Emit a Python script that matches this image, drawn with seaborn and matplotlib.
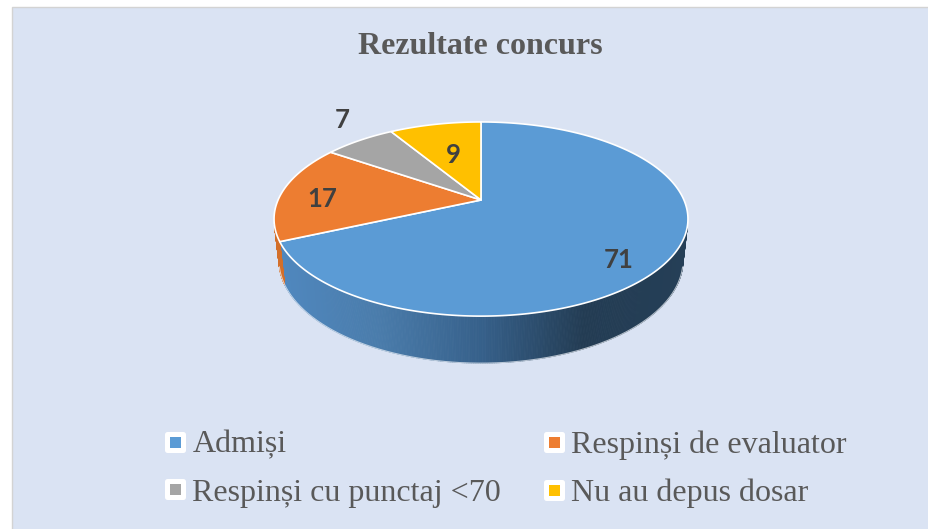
import numpy as np
import matplotlib
matplotlib.use("Agg")
import matplotlib.pyplot as plt
import seaborn as sns
from matplotlib.patches import Polygon, Rectangle
from matplotlib.collections import PolyCollection
from matplotlib.lines import Line2D
from matplotlib.markers import MarkerStyle

# ---------------- data ----------------
categories = ["Admiși", "Respinși de evaluator", "Respinși cu punctaj <70", "Nu au depus dosar"]
values = [71, 17, 7, 9]
title = "Rezultate concurs"

# ---------------- style ----------------
top_colors = ["#5B9BD5", "#ED7D31", "#A5A5A5", "#FFC000"]
side_colors = ["#3A6591", "#D36F2A", "#8A8A8A", "#D9A300"]
blue_wall_stops = ["#5088BF", "#4A7CAB", "#36608A", "#233C53", "#253F57"]

sns.set_theme(style="white")
plt.rcParams["font.family"] = ["Liberation Serif", "DejaVu Serif"]

W, H = 929, 529
fig = plt.figure(figsize=(W / 100, H / 100), dpi=100)
fig.patch.set_facecolor("white")
ax = fig.add_axes([0, 0, 1, 1])
ax.set_xlim(0, W)
ax.set_ylim(H, 0)
ax.axis("off")

ax.add_patch(Rectangle((12, 7), W - 11, H - 6, facecolor="#DAE3F3",
                       edgecolor="#D3D3D3", lw=1.0, zorder=0))

# ---------------- 3D projection ----------------
S_E = 0.46
C_E = np.sqrt(1 - S_E ** 2)
DIST = 5.1 * C_E
SCALE = 919.0
CX, CY = 481.0, 200.0
THICK = 0.231


def proj(u, v, z=0.0):
    depth = DIST + v * C_E - z * S_E
    xs = u / depth
    ys = (v * S_E + z * C_E) / depth
    return CX + SCALE * xs, CY - SCALE * ys


total = float(sum(values))
cum = np.concatenate([[0], np.cumsum(values)])
starts = 90 - cum[:-1] / total * 360
ends = 90 - cum[1:] / total * 360

vis_thr = -1.0 / (DIST * C_E)
grad = sns.blend_palette(blue_wall_stops, n_colors=256)
xl, xr = CX - 207, CX + 207

# side walls (front, visible part)
for i in range(len(values)):
    th = np.radians(np.linspace(starts[i], ends[i], 600))
    vis = np.sin(th) < vis_thr
    polys, cols = [], []
    bottom_x, bottom_y = [], []
    for j in range(len(th) - 1):
        if vis[j] and vis[j + 1]:
            a, b = th[j], th[j + 1]
            p1 = proj(np.cos(a), np.sin(a), 0)
            p2 = proj(np.cos(b), np.sin(b), 0)
            p3 = proj(np.cos(b), np.sin(b), -THICK)
            p4 = proj(np.cos(a), np.sin(a), -THICK)
            polys.append([p1, p2, p3, p4])
            if i == 0:
                t = np.clip(((p1[0] + p2[0]) / 2 - xl) / (xr - xl), 0, 1)
                cols.append(grad[int(t * 255)])
            else:
                cols.append(side_colors[i])
            bottom_x.append(p4[0]); bottom_y.append(p4[1])
    if polys:
        pc = PolyCollection(polys, facecolors=cols, edgecolors=cols, linewidths=0.6, zorder=2)
        ax.add_collection(pc)
        ax.plot(bottom_x, bottom_y, color="#EEF2F8", lw=0.8, alpha=0.7, zorder=3)

# top faces
for i in range(len(values)):
    th = np.radians(np.linspace(starts[i], ends[i], 300))
    pts = [proj(0, 0, 0)] + [proj(np.cos(a), np.sin(a), 0) for a in th]
    ax.add_patch(Polygon(pts, closed=True, facecolor=top_colors[i], edgecolor="white",
                         lw=1.2, joinstyle="round", zorder=4))

# data labels
label_r = [0.75, 0.8, 1.15, 0.55]
label_z = [-0.1, -0.03, 0.08, 0.0]
for i, val in enumerate(values):
    mid = np.radians((starts[i] + ends[i]) / 2)
    x, y = proj(label_r[i] * np.cos(mid), label_r[i] * np.sin(mid), label_z[i])
    ax.text(x, y, str(val), ha="center", va="center", fontsize=18.5, fontweight="bold",
            color="#404040", family=["Lato", "DejaVu Sans"], zorder=6)

# title
ax.text(480, 47, title, ha="center", va="center", fontsize=23, fontweight="bold",
        color="#595959", family=["Liberation Serif", "DejaVu Serif"], zorder=6)

# legend (row-wise order like reference)
order = [0, 2, 1, 3]
sq = MarkerStyle("s", joinstyle="round")
handles = [Line2D([], [], marker=sq, linestyle="none", markersize=11.5,
                  markerfacecolor=top_colors[k], markeredgecolor="white",
                  markeredgewidth=3.6) for k in order]
leg = ax.legend(handles, [categories[k] for k in order], ncol=2, loc="center",
                bbox_to_anchor=(506 / W, 1 - 469 / H), bbox_transform=fig.transFigure,
                frameon=False, fontsize=23, labelcolor="#595959",
                handlelength=0.6, handletextpad=0.25, columnspacing=1.35,
                labelspacing=0.58, borderpad=0)

fig.savefig("out.png", dpi=100, facecolor="white")
